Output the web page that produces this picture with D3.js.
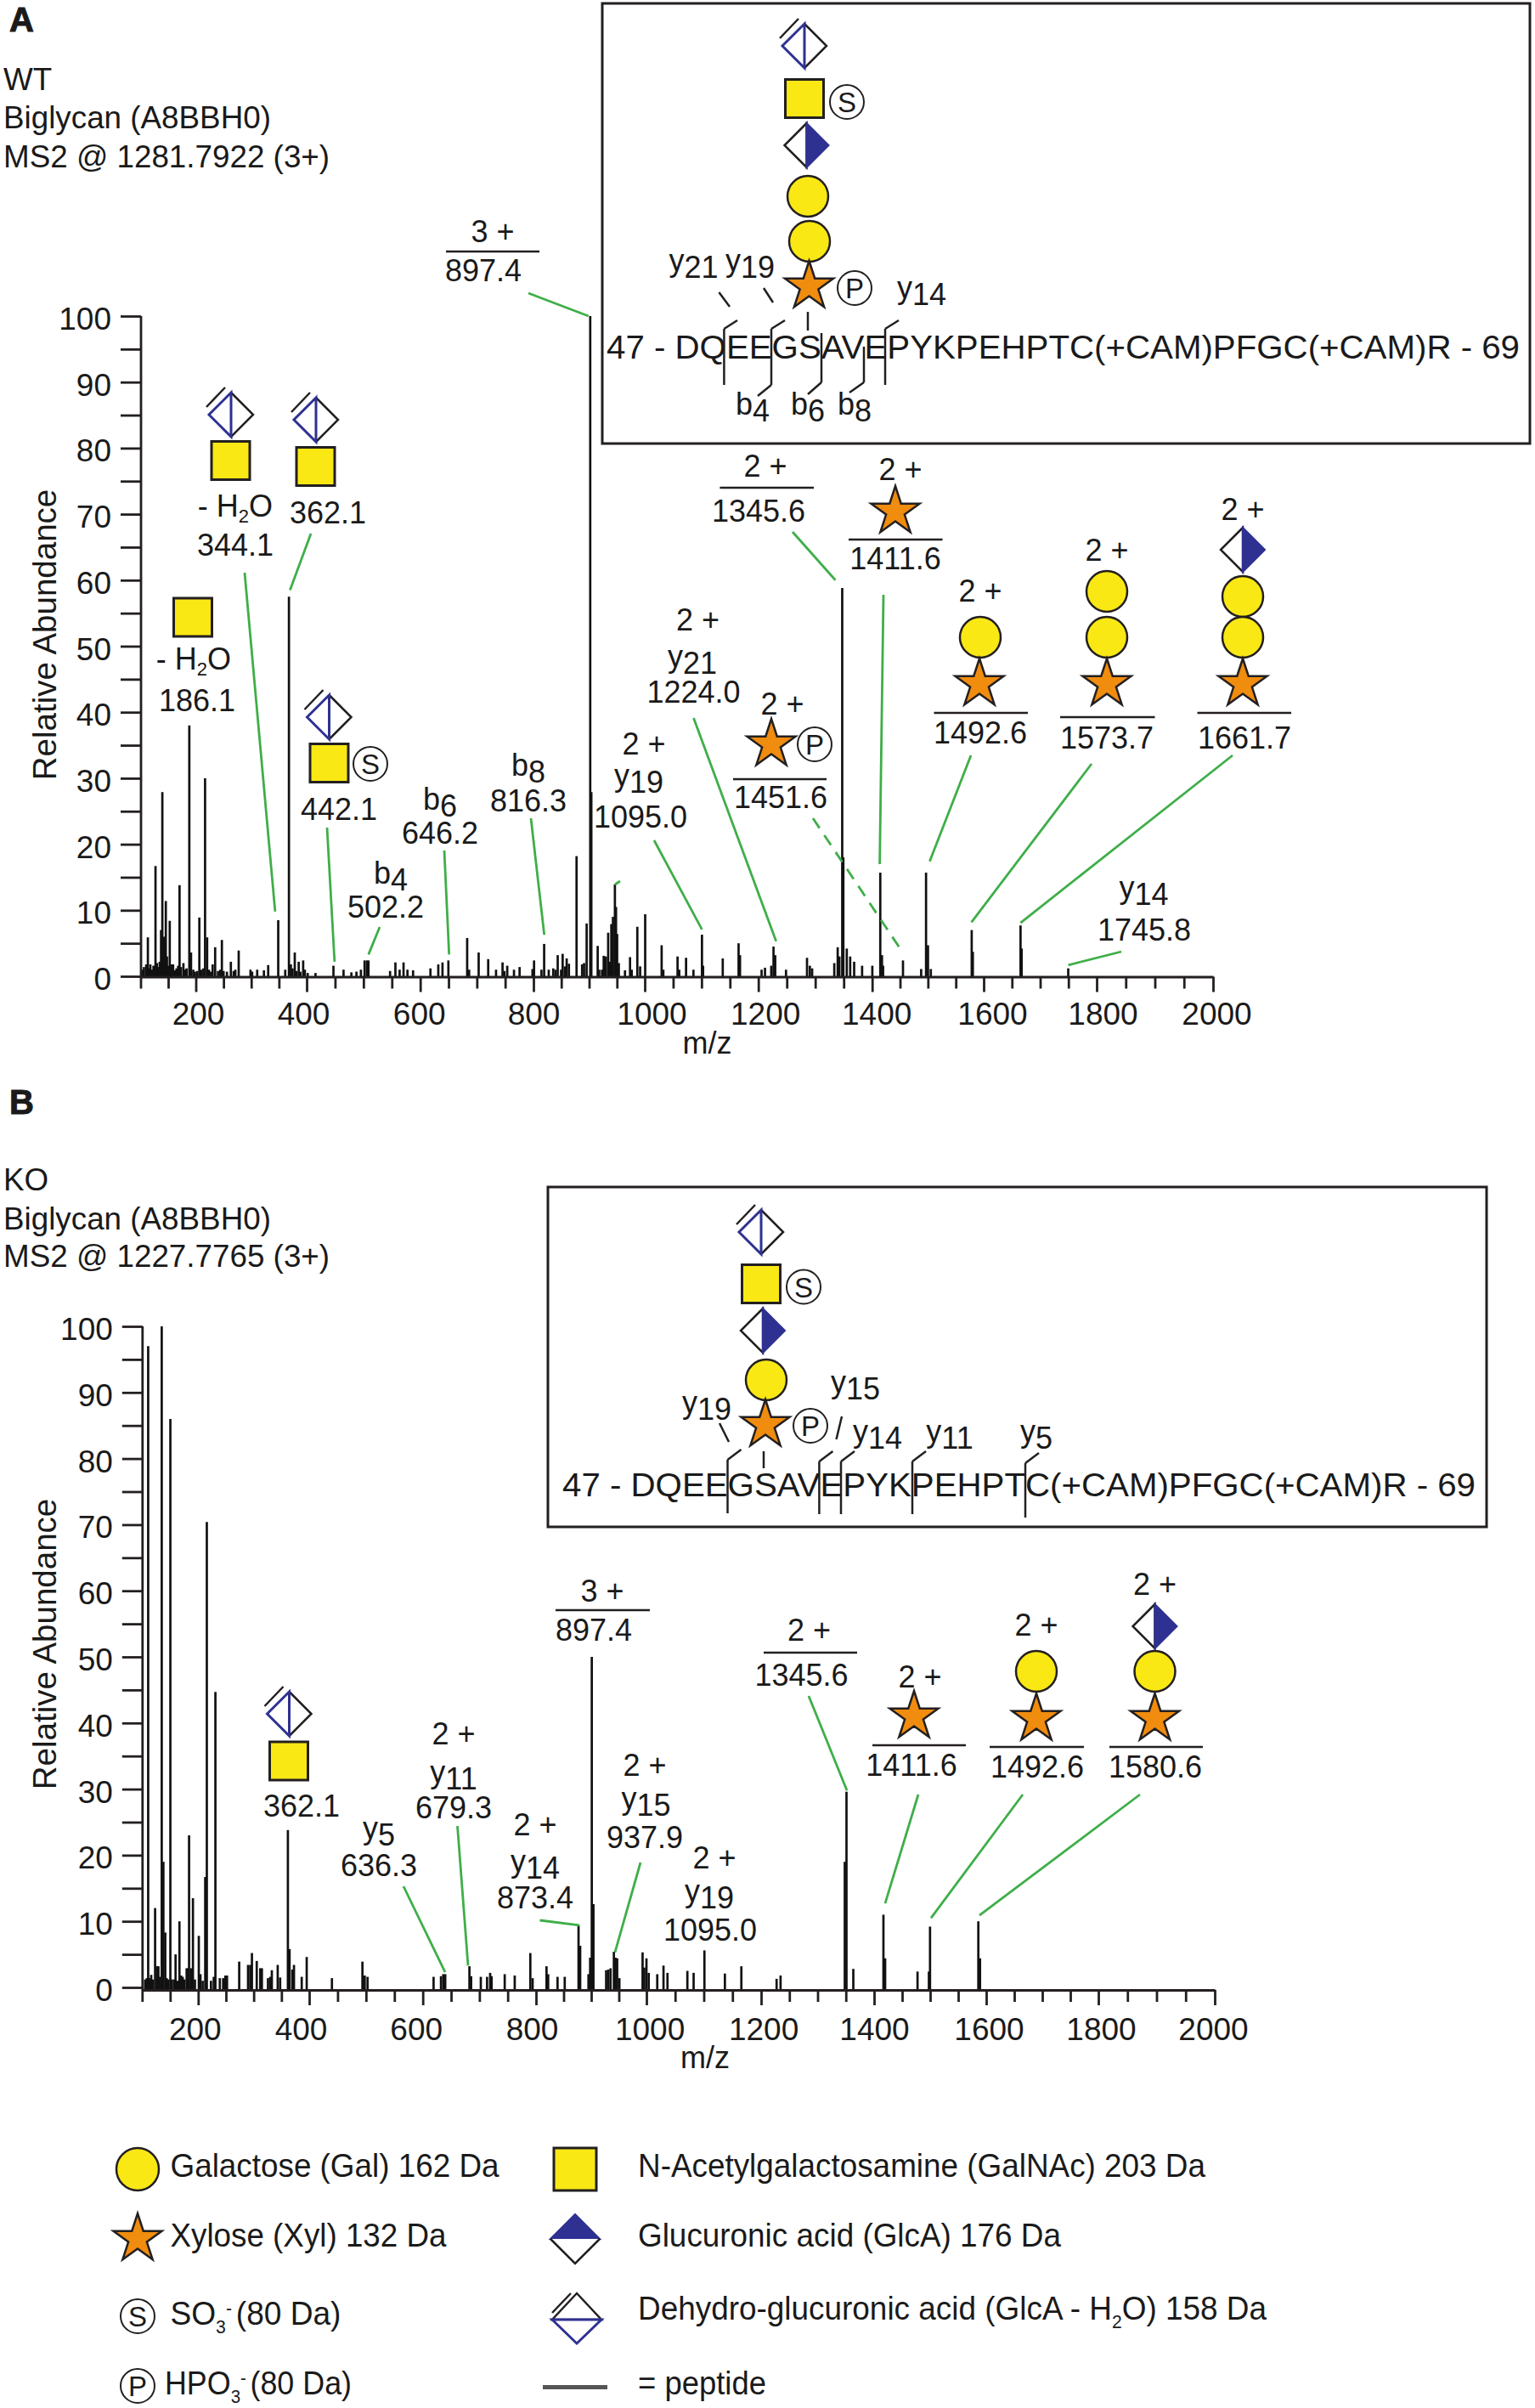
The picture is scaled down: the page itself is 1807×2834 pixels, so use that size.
<!DOCTYPE html>
<html><head><meta charset="utf-8">
<script src="https://cdn.jsdelivr.net/npm/d3@7/dist/d3.min.js"></script>
<style>html,body{margin:0;padding:0;background:#fff}svg{display:block}text{font-family:"Liberation Sans",Arial,sans-serif;fill:#1a1a1a}</style>
</head><body><div id="c"></div>
<script>
// ---------- data: [m/z, relative abundance] ----------
const peaksWT = [[103,1],[106,1.4],[110,1.8],[113,5.9],[115,1.2],[117.4,1.8],[120,1],[123,1.6],[126.6,16.7],[129,2],[132,1.4],[134,2.2],[136.5,7],[138.8,27.9],[140.5,4],[142,6],[145,11.4],[147,3],[149,1.6],[152,8.4],[155,1.8],[158,1.8],[161,.9],[164,1.2],[167,1.6],[169.5,13.8],[172,1.4],[176.4,2],[179,1],[182,1.2],[186.9,38],[190,3.6],[194,1],[197,.7],[201,.8],[204.8,8.9],[208,1],[212,1.2],[215,30],[218.7,5.9],[222,1],[225,.7],[228.5,1.8],[233,4.4],[238,.8],[242,1],[245,5.5],[248,.8],[254,.7],[261,2.2],[266,.8],[269,1],[275,3.9],[296,1],[299,.7],[308,1],[320,.9],[327.6,1.7],[345.5,8.5],[358,1],[364.6,57.5],[368,1.8],[371,1.2],[375,3.6],[378,.8],[382,2.2],[385,.7],[390,2.4],[393,1],[398,.5],[412,.5],[444,1.6],[462,1],[476,.6],[485,.7],[493,1],[499.5,2.4],[503.6,2.4],[506.5,2.4],[545,.8],[554.5,2.1],[562,1],[569,2.1],[576,1],[586,.9],[617,1.2],[631,1.8],[638.5,2.1],[649,2.4],[682.5,5.8],[686,1],[703,3.6],[720,2.6],[734,1],[745.6,2.1],[749,.8],[754,1.6],[766,1],[776,1.4],[801.8,2.4],[799,1.1],[815,1],[819.8,4.9],[828,1],[836,1.2],[840,1],[844,3.2],[850,1],[852.8,3.4],[857,1.5],[860,2.7],[864,1.9],[877.6,18.2],[887.5,1.8],[891,2],[895.6,8],[902,100],[904,27.9],[915.3,4.6],[918,1],[923,1],[926,3.1],[930,3],[934,6.6],[937,2.2],[939.6,7.9],[942.5,9],[946,13.9],[948,10.5],[950,6.4],[953,2],[964,.9],[973,2.9],[976,1],[986,7.5],[991,1.5],[1000,9.4],[1029,4.7],[1032,1],[1057,3],[1060,1],[1072,2.8],[1085,1],[1100,6.3],[1102,1.6],[1136.6,2.7],[1164.5,5],[1167,3.2],[1205,1],[1211,1.3],[1226,4.5],[1229,3.2],[1222,1.6],[1248,1],[1285,2.8],[1290,1.6],[1294,1.2],[1333,2],[1339,4.4],[1342,3],[1347,58.8],[1349,18],[1355,4.2],[1361,3],[1368,2.2],[1382,1.6],[1400,1.6],[1414,15.7],[1417,3.2],[1419,1.6],[1454,2.4],[1486,1.1],[1494.6,15.7],[1498,4.7],[1503,1.1],[1575,7],[1577,3.7],[1661,7.7],[1663,4.2],[1745,1.2]];
const peaksKO = [[105,1.2],[108,1.4],[110.5,97],[113,1.4],[116,1.9],[119,1.2],[123,12],[127,3.2],[129,3.2],[132,1.6],[135,100],[138,19],[141.4,8.3],[144,1.4],[147,1.2],[150.6,86],[153,1.2],[157,1.2],[160,5],[163,1],[167,10],[170,1.8],[173,1.6],[176,1.2],[180,2.9],[183,2.9],[184.4,23],[188,2.9],[191.4,13.5],[195,1.2],[202,7.8],[205,2],[209,1],[213.6,16.7],[216.5,70.4],[224,1],[229,1.6],[232,44.7],[240,1.4],[246,1.4],[250,1.8],[253,1.8],[275,3.9],[291,3.4],[295,3.4],[298,5.2],[306.7,4],[313,2.9],[316,2.9],[327,1.4],[331,1.6],[334,2.6],[344.6,3.4],[349,1.5],[363,23.8],[366,5.8],[371,2.7],[374,3.4],[388,1.6],[397,4.6],[441.4,1.4],[495,3.9],[499,1.8],[504,1.6],[620,1.6],[633,1.7],[637,2],[640.5,2],[683,3.2],[686,1.7],[703,1.6],[714,1.6],[719.4,2.2],[722,1.7],[745,2],[762.6,1.8],[790,5.2],[794,1.4],[819,3.2],[822,2],[839,1.6],[852,1.6],[877,9.4],[880,6.3],[895,2],[898,4.5],[901,50],[904,12.6],[927,2.6],[931,2.7],[935,2.9],[941,5.4],[944,4.5],[947,4.4],[951,1.4],[993,5.3],[996,3],[1000,4.4],[1004,2.2],[1019,2],[1030,3.3],[1037,2.2],[1072,2.5],[1083,2.2],[1102,5.6],[1138,2.1],[1167,3.2],[1229,1.3],[1236,1.8],[1349,19],[1352,29.6],[1364,2.8],[1417,11],[1420,4.4],[1477,2.4],[1497,2.4],[1499,9.2],[1584,10],[1587,4.4]];
const yTickValues = d3.range(0, 101, 5);
const xTickValues = d3.range(100, 2001, 50);
const majorMz = [100,200,400,600,800,1000,1200,1400,1600,1800,2000];
const peptide = "47 - DQEEGSAVEPYKPEHPTC(+CAM)PFGC(+CAM)R - 69";
const headerWT = ["WT", "Biglycan (A8BBH0)", "MS2 @ 1281.7922 (3+)"];
const headerKO = ["KO", "Biglycan (A8BBH0)", "MS2 @ 1227.7765 (3+)"];

const YEL="#f9e814", ORG="#f08c0e", NAVY="#2e3192", GRN="#3fae49", INK="#231f20";
const svg = d3.select("#c").append("svg").attr("width",1807).attr("height",2834);

function T(x,y,s,o={}){
  return svg.append("text").attr("x",x).attr("y",y).attr("font-size",o.size||36)
    .attr("text-anchor",o.anchor||"middle").text(s);
}
function sub(x,y,base,subs){
  const t=svg.append("text").attr("x",x).attr("y",y).attr("font-size",36).attr("text-anchor","middle");
  t.append("tspan").text(base);
  t.append("tspan").attr("dy",8).text(subs);
  return t;
}
function minusWater(x,y){
  const t=svg.append("text").attr("x",x).attr("y",y).attr("font-size",36).attr("text-anchor","middle");
  t.append("tspan").text("- H");
  t.append("tspan").attr("dy",7).attr("font-size",22).text("2");
  t.append("tspan").attr("dy",-7).text("O");
}
function rule(x1,x2,y){svg.append("line").attr("x1",x1).attr("x2",x2).attr("y1",y).attr("y2",y).attr("stroke",INK).attr("stroke-width",2.5);}
function seg(x1,y1,x2,y2,c=INK,w=2.5,dash){
  const l=svg.append("line").attr("x1",x1).attr("y1",y1).attr("x2",x2).attr("y2",y2).attr("stroke",c).attr("stroke-width",w);
  if(dash) l.attr("stroke-dasharray",dash);
}
function circle(x,y,r=24){svg.append("ellipse").attr("cx",x).attr("cy",y).attr("rx",r).attr("ry",r).attr("fill",YEL).attr("stroke",INK).attr("stroke-width",2.5);}
function square(x,y,h=22.5){svg.append("rect").attr("x",x-h).attr("y",y-h).attr("width",2*h).attr("height",2*h).attr("fill",YEL).attr("stroke",INK).attr("stroke-width",3);}
function star(x,y,R=30){svg.append("path").attr("d",d3.symbol().type(d3.symbolStar).size(R*R/0.8908)()).attr("transform",`translate(${x},${y})`).attr("fill",ORG).attr("stroke",INK).attr("stroke-width",2.5).attr("stroke-linejoin","miter");}
function mark(x,y,s){svg.append("circle").attr("cx",x).attr("cy",y).attr("r",20).attr("fill","#fff").attr("stroke",INK).attr("stroke-width",2);T(x,y+12,s,{size:33});}
function halfD(x,y,h=26){
  svg.append("path").attr("d",`M${x},${y-h}L${x-h},${y}L${x},${y+h}Z`).attr("fill","#fff").attr("stroke",INK).attr("stroke-width",2.5);
  svg.append("path").attr("d",`M${x},${y-h}L${x+h},${y}L${x},${y+h}Z`).attr("fill",NAVY).attr("stroke",NAVY).attr("stroke-width",2);
}
function dehydro(x,y,h=26){
  svg.append("path").attr("d",`M${x},${y-h}L${x+h},${y}L${x},${y+h}`).attr("fill","#fff").attr("stroke",INK).attr("stroke-width",2.5);
  svg.append("path").attr("d",`M${x},${y+h}L${x-h},${y}L${x},${y-h}Z`).attr("fill","#fff").attr("stroke",NAVY).attr("stroke-width",3);
  seg(x-h-3,y-9,x-7,y-h-6,INK,2.5);
}

function panel(cfg){
  const x=d3.scaleLinear().domain(cfg.xd).range(cfg.xr);
  const xt=d3.scaleLinear().domain(majorMz).range(cfg.tickR);   // the printed ticks are not quite even
  const y=d3.scaleLinear().domain([0,100]).range([cfg.y0,cfg.y100]);
  svg.append("g").selectAll("line").data(cfg.peaks).join("line")
    .attr("x1",d=>x(d[0])).attr("x2",d=>x(d[0])).attr("y1",cfg.axisY).attr("y2",d=>y(d[1]))
    .attr("stroke","#111").attr("stroke-width",2.7);
  const ax=svg.append("g").attr("transform",`translate(${cfg.tickR[0]+0.5},0)`)
    .call(d3.axisLeft(y).tickValues(yTickValues).tickSize(24).tickPadding(11).tickSizeOuter(0).tickFormat(d=>d%10?"":d));
  ax.select(".domain").attr("d",`M0,${cfg.y100}V${cfg.axisY}`);
  const bx=svg.append("g").attr("transform",`translate(0,${cfg.axisY})`)
    .call(d3.axisBottom(xt).tickValues(xTickValues).tickSize(15).tickPadding(0).tickSizeOuter(0).tickFormat(d=>d%200?"":d));
  bx.selectAll(".tick line").attr("y2",d=>d%200?14:18);
  bx.selectAll(".tick text").attr("y",cfg.xLabY).attr("dy",0).attr("x",d=>cfg.labelDx[d]||0);
  [ax,bx].forEach(g=>{
    g.attr("font-family",null).attr("font-size",null);
    g.selectAll("text").attr("font-size",37).attr("fill","#1a1a1a");
    g.selectAll("line,.domain").attr("stroke",INK).attr("stroke-width",2.8);
  });
  ax.selectAll("text").attr("dy","0.42em");
  T(cfg.mzX,cfg.mzY,"m/z",{size:36});
  svg.append("text").attr("transform",`translate(66,${cfg.yTitleY}) rotate(-90)`).attr("font-size",38.5).attr("text-anchor","middle").text("Relative Abundance");
  cfg.leaders.forEach(l=>seg(l[0],l[1],x(l[2]),y(l[3]),GRN,2.8,l[4]));
}
function seq(x,y,w){T(x,y,peptide,{anchor:"start",size:38.5}).attr("lengthAdjust","spacingAndGlyphs").attr("textLength",w);}

// ---------- Panel A ----------
T(11,37,"A",{anchor:"start",size:40}).attr("font-weight","bold").attr("stroke","#1a1a1a").attr("stroke-width",1);
headerWT.forEach((s,i)=>T(4,[106,151,197][i],s,{anchor:"start",size:36.8}));
panel({peaks:peaksWT,xd:[100,1000,2000],xr:[165.5,759.5,1428],tickR:[165.5,230.5,361,494.7,628,759,892.7,1026.7,1158,1291,1428],
 labelDx:{200:2.5,400:-4,600:-1.5,800:0,1000:8,1200:8,1400:5,1600:10,1800:7,2000:4},
 y0:1149,y100:372,axisY:1149.5,xLabY:56.5,mzX:832.5,mzY:1240,yTitleY:747,
 leaders:[[622,345,899,100],[288,674,340,9.8],[366,628,366.5,58.5],[385,974,446,2.2],[447,1091,506.5,3.3],[523,1001,650.3,3.3],[625,963,820,6.3],[770,989,1100,7.1],[816.5,845,1230.6,5.3],[933,626,1335,60],[1040,700,1413,17],[1143,889,1501,17.4],[1285,899,1574.6,8.2],[1451,889,1661,8.1],[1320,1120,1745,1.7],[957,963,1449,4.2,"14 10"],[730,1037,946,13.9]]});

T(580,285,"3 +");rule(525,635,296);T(569,331,"897.4");
dehydro(272,488);square(271.5,542);minusWater(277,608);T(277,654,"344.1");
dehydro(372,494);square(371.5,549);T(386,616,"362.1");
square(227,726.5);minusWater(228,788);T(232,837,"186.1");
dehydro(387.5,844);square(387.5,898);mark(436,899,"S");T(399,965,"442.1");
sub(460,1040,"b","4");T(454,1080,"502.2");
sub(518,953,"b","6");T(518,993,"646.2");
sub(622,913,"b","8");T(622,955,"816.3");
T(758,888,"2 +");sub(752,925,"y","19");T(754,974,"1095.0");
T(821.5,742,"2 +");sub(815,785,"y","21");T(816.5,827,"1224.0");
T(921,841,"2 +");star(908,876);mark(959,876,"P");rule(863,973,917);T(919,951,"1451.6");
T(901,561,"2 +");rule(847.4,958,574);T(893,614,"1345.6");
T(1060,565,"2 +");star(1054,602);rule(999,1109.5,635);T(1054,670,"1411.6");
T(1154,708,"2 +");circle(1154,750);star(1153,805);rule(1099.5,1210,839);T(1154,875,"1492.6");
T(1303,660,"2 +");circle(1303,696);circle(1303,750);star(1303,805);rule(1248,1359.5,844);T(1303,881,"1573.7");
T(1463,612,"2 +");halfD(1463,647);circle(1463,702);circle(1463,750);star(1463,805);rule(1409.5,1520,839);T(1465,881,"1661.7");
sub(1346.5,1057,"y","14");T(1347,1107,"1745.8");

// inset A
svg.append("rect").attr("x",709).attr("y",4).attr("width",1092).attr("height",518).attr("fill","none").attr("stroke",INK).attr("stroke-width",3);
seq(714,422,1075);
dehydro(947,54);square(947,116);mark(997,120,"S");halfD(949.5,171);circle(951,231);circle(953,284);star(952.5,337);mark(1006,339,"P");
seg(951,367,951,389);
seg(852.4,387,852.4,453);seg(852.4,387,868,377);
seg(908,387,908,453);seg(908,387,924,377);seg(908,453,892,466);
seg(967,392,967,450);seg(967,450,951,464);
seg(1017,408,1017,450);seg(1017,450,1000,462);
seg(1042,387,1042,453);seg(1042,387,1058,377);
sub(816.5,319,"y","21");sub(883,319,"y","19");sub(1085,351,"y","14");
seg(846.4,344,859,361);seg(899,339,910,356);
sub(886,488,"b","4");sub(951,488,"b","6");sub(1006,488,"b","8");

// ---------- Panel B ----------
T(11,1311,"B",{anchor:"start",size:40}).attr("font-weight","bold").attr("stroke","#1a1a1a").attr("stroke-width",1);
headerKO.forEach((s,i)=>T(4,[1401,1447,1491][i],s,{anchor:"start",size:36.8}));
panel({peaks:peaksKO,xd:[100,400,800,1000,2000],xr:[167.6,363,631,761,1430],tickR:[167.3,233.3,364,497.7,631,761,896,1029,1161,1293,1430],
 labelDx:{200:-4,400:-10,600:-8,800:-5,1000:3.6,1200:2.6,1400:0,1600:3,1800:3,2000:-2},
 y0:2339,y100:1561,axisY:2342,xLabY:58.7,mzX:830,mzY:2434,yTitleY:1935,
 leaders:[[475,2220,640.3,2.3],[538.5,2149,680.6,3.3],[635.5,2260,878.5,9.4],[754,2192,943,5.3],[952,1996,1352.8,29.8],[1081,2112,1420,12.7],[1204,2112,1500.7,10.5],[1342,2112,1586,10.9]]});

dehydro(340.5,2017);square(340,2072.5);T(355,2137.5,"362.1");
sub(446,2164,"y","5");T(446,2208,"636.3");
T(534,2053,"2 +");sub(534,2098,"y","11");T(534,2140,"679.3");
T(630,2160,"2 +");sub(630,2202.5,"y","14");T(630,2246,"873.4");
T(709,1885,"3 +");rule(654,765,1895);T(699,1931,"897.4");
T(759,2090,"2 +");sub(760.5,2129,"y","15");T(759,2175,"937.9");
T(841,2199,"2 +");sub(835,2238,"y","19");T(836,2284,"1095.0");
T(952.5,1931,"2 +");rule(899,1009,1945);T(943.6,1984,"1345.6");
T(1083,1985.5,"2 +");star(1076,2020);rule(1027,1137,2054);T(1073,2090,"1411.6");
T(1220,1925,"2 +");circle(1220,1967);star(1220,2023);rule(1165,1276,2056);T(1221,2092,"1492.6");
T(1359.5,1877,"2 +");halfD(1359.5,1914);circle(1359.5,1967);star(1359.5,2023);rule(1306,1416,2056);T(1360,2092,"1580.6");

// inset B
svg.append("rect").attr("x",645).attr("y",1397).attr("width",1105).attr("height",400).attr("fill","none").attr("stroke",INK).attr("stroke-width",3);
seq(662,1761,1075);
dehydro(896,1450);square(896,1511);mark(946,1514.5,"S");halfD(898,1566);circle(902,1624);star(901,1677);mark(954,1678,"P");
seg(899,1708,899,1728);
[[856.5,1718,1781],[964.4,1720,1782],[990,1720,1782],[1074,1720,1782],[1207,1722,1786]].forEach(b=>{seg(b[0],b[1],b[0],b[2]);seg(b[0],b[1],b[0]+16,b[1]-12);});
sub(832,1663,"y","19");seg(847,1675,858,1697);
sub(1007,1639,"y","15");seg(984.5,1694,991,1667);
sub(1033,1697,"y","14");sub(1118,1697,"y","11");sub(1220,1697,"y","5");

// ---------- Legend ----------
const lg=38.5;
function L(x,y,s,w){const t=T(x,y,s,{anchor:"start",size:lg}).attr("lengthAdjust","spacingAndGlyphs").attr("textLength",w);return t;}
circle(162,2553,25);L(200.5,2562,"Galactose (Gal) 162 Da",387);
square(677,2553,25);L(751,2562,"N-Acetylgalactosamine (GalNAc) 203 Da",668);
star(162,2635,30);L(200.5,2644,"Xylose (Xyl) 132 Da",325);
svg.append("path").attr("d","M677,2606L648,2635L706,2635Z").attr("fill",NAVY).attr("stroke",NAVY).attr("stroke-width",2);
svg.append("path").attr("d","M648,2635L677,2664L706,2635").attr("fill","#fff").attr("stroke",INK).attr("stroke-width",2.5);
L(751,2644,"Glucuronic acid (GlcA) 176 Da",498);
mark(162,2726,"S");
{const t=L(200.5,2736,"",201);t.append("tspan").text("SO");t.append("tspan").attr("dy",10).attr("font-size",22).text("3");t.append("tspan").attr("dy",-22).attr("font-size",22).text("-");t.append("tspan").attr("dy",12).attr("dx",5).text("(80 Da)");}
svg.append("path").attr("d","M679,2699L650,2730L708,2730Z").attr("fill","#fff").attr("stroke",INK).attr("stroke-width",2.5);
svg.append("path").attr("d","M650,2730L679,2758L708,2730Z").attr("fill","#fff").attr("stroke",NAVY).attr("stroke-width",3);
seg(650,2722,672,2699,INK,2.5);
{const t=L(751,2730,"",740);t.append("tspan").text("Dehydro-glucuronic acid (GlcA - H");t.append("tspan").attr("dy",10).attr("font-size",22).text("2");t.append("tspan").attr("dy",-10).text("O) 158 Da");}
mark(162,2808,"P");
{const t=L(194,2818,"",220);t.append("tspan").text("HPO");t.append("tspan").attr("dy",10).attr("font-size",22).text("3");t.append("tspan").attr("dy",-22).attr("font-size",22).text("-");t.append("tspan").attr("dy",12).attr("dx",5).text("(80 Da)");}
seg(639,2809.5,715,2809.5,"#555",5);
L(751,2818,"= peptide",151);
</script></body></html>
